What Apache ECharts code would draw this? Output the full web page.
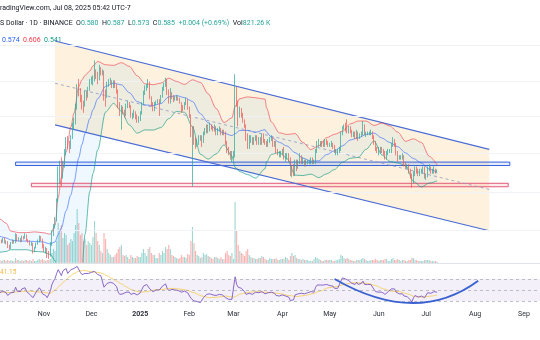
<!DOCTYPE html>
<html>
<head>
<meta charset="utf-8">
<script src="https://cdn.jsdelivr.net/npm/echarts@6/dist/echarts.min.js"></script>
<style>
html, body { margin: 0; padding: 0; background: #fff; }
#main { width: 540px; height: 340px; }
</style>
</head>
<body>
<div id="main"></div>
<script>
// daily candles, 2024-10-01 .. 2025-07-08 (one value per day)
var firstDay = [2024, 9, 1];

var opens = [
  0.365, 0.351, 0.340, 0.337, 0.352, 0.350, 0.357, 0.349, 0.349, 0.337, 0.335, 0.347, 0.352, 0.349, 0.368, 0.354, 0.358, 0.352, 0.362, 0.360, 0.367, 0.354, 0.352, 0.343, 0.346, 0.327, 0.335, 0.345, 0.351, 0.362, 0.355,
  0.337, 0.330, 0.330, 0.320, 0.318, 0.345, 0.373, 0.390, 0.410, 0.470, 0.570, 0.580, 0.560, 0.610, 0.660, 0.720, 0.700, 0.690, 0.740, 0.800, 0.820, 0.920, 1.050, 1.030, 0.980, 0.950, 0.930, 1.010, 0.990, 1.040,
  1.100, 1.110, 1.120, 1.180, 1.160, 1.130, 1.210, 1.170, 1.180, 1.000, 0.990, 1.080, 1.100, 1.100, 1.070, 1.090, 1.070, 1.030, 0.930, 0.880, 0.900, 0.890, 0.870, 0.920, 0.940, 0.920, 0.860, 0.860, 0.880, 0.850, 0.840,
  0.840, 0.880, 0.940, 1.020, 1.050, 1.060, 1.090, 0.980, 0.940, 0.910, 0.940, 0.950, 0.960, 0.950, 0.990, 1.050, 1.070, 1.110, 1.020, 0.960, 1.000, 0.990, 0.970, 0.980, 0.980, 0.970, 0.950, 0.920, 0.910, 0.940, 0.960,
  0.910, 0.860, 0.770, 0.780, 0.720, 0.700, 0.710, 0.730, 0.740, 0.720, 0.760, 0.770, 0.800, 0.780, 0.800, 0.790, 0.780, 0.800, 0.760, 0.780, 0.780, 0.760, 0.770, 0.760, 0.710, 0.680, 0.660, 0.640,
  0.650, 0.650, 1.040, 0.930, 0.880, 0.900, 0.870, 0.830, 0.800, 0.730, 0.700, 0.730, 0.730, 0.710, 0.730, 0.740, 0.710, 0.730, 0.710, 0.750, 0.720, 0.710, 0.700, 0.720, 0.730, 0.730, 0.700, 0.710, 0.670, 0.660, 0.660,
  0.660, 0.670, 0.640, 0.650, 0.650, 0.630, 0.570, 0.580, 0.570, 0.620, 0.600, 0.620, 0.640, 0.620, 0.620, 0.610, 0.620, 0.620, 0.620, 0.630, 0.620, 0.620, 0.670, 0.700, 0.710, 0.700, 0.710, 0.700, 0.720, 0.710,
  0.700, 0.700, 0.700, 0.690, 0.670, 0.670, 0.670, 0.680, 0.760, 0.790, 0.800, 0.790, 0.780, 0.780, 0.770, 0.750, 0.760, 0.740, 0.770, 0.740, 0.750, 0.760, 0.800, 0.760, 0.760, 0.760, 0.760, 0.760, 0.740, 0.710, 0.680,
  0.670, 0.670, 0.680, 0.670, 0.660, 0.640, 0.660, 0.670, 0.670, 0.700, 0.720, 0.700, 0.660, 0.640, 0.640, 0.640, 0.640, 0.610, 0.600, 0.600, 0.580, 0.560, 0.540, 0.570, 0.590, 0.580, 0.570, 0.580, 0.580, 0.590,
  0.560, 0.560, 0.590, 0.600, 0.580, 0.580, 0.590, 0.580
];
var closes = [
  0.351, 0.340, 0.337, 0.352, 0.350, 0.357, 0.349, 0.349, 0.337, 0.335, 0.347, 0.352, 0.349, 0.368, 0.354, 0.358, 0.352, 0.362, 0.360, 0.367, 0.354, 0.352, 0.343, 0.346, 0.327, 0.335, 0.345, 0.351, 0.362, 0.355, 0.337,
  0.330, 0.330, 0.320, 0.318, 0.345, 0.373, 0.390, 0.410, 0.470, 0.570, 0.580, 0.560, 0.610, 0.660, 0.720, 0.700, 0.690, 0.740, 0.800, 0.820, 0.920, 1.050, 1.030, 0.980, 0.950, 0.930, 1.010, 0.990, 1.040, 1.100,
  1.110, 1.120, 1.180, 1.160, 1.130, 1.210, 1.170, 1.180, 1.000, 0.990, 1.080, 1.100, 1.100, 1.070, 1.090, 1.070, 1.030, 0.930, 0.880, 0.900, 0.890, 0.870, 0.920, 0.940, 0.920, 0.860, 0.860, 0.880, 0.850, 0.840, 0.840,
  0.880, 0.940, 1.020, 1.050, 1.060, 1.090, 0.980, 0.940, 0.910, 0.940, 0.950, 0.960, 0.950, 0.990, 1.050, 1.070, 1.110, 1.020, 0.960, 1.000, 0.990, 0.970, 0.980, 0.980, 0.970, 0.950, 0.920, 0.910, 0.940, 0.960, 0.910,
  0.860, 0.770, 0.780, 0.720, 0.700, 0.710, 0.730, 0.740, 0.720, 0.760, 0.770, 0.800, 0.780, 0.800, 0.790, 0.780, 0.800, 0.760, 0.780, 0.780, 0.760, 0.770, 0.760, 0.710, 0.680, 0.660, 0.640, 0.650,
  0.650, 1.040, 0.930, 0.880, 0.900, 0.870, 0.830, 0.800, 0.730, 0.700, 0.730, 0.730, 0.710, 0.730, 0.740, 0.710, 0.730, 0.710, 0.750, 0.720, 0.710, 0.700, 0.720, 0.730, 0.730, 0.700, 0.710, 0.670, 0.660, 0.660, 0.660,
  0.670, 0.640, 0.650, 0.650, 0.630, 0.570, 0.580, 0.570, 0.620, 0.600, 0.620, 0.640, 0.620, 0.620, 0.610, 0.620, 0.620, 0.620, 0.630, 0.620, 0.620, 0.670, 0.700, 0.710, 0.700, 0.710, 0.700, 0.720, 0.710, 0.700,
  0.700, 0.700, 0.690, 0.670, 0.670, 0.670, 0.680, 0.760, 0.790, 0.800, 0.790, 0.780, 0.780, 0.770, 0.750, 0.760, 0.740, 0.770, 0.740, 0.750, 0.760, 0.800, 0.760, 0.760, 0.760, 0.760, 0.760, 0.740, 0.710, 0.680, 0.670,
  0.670, 0.680, 0.670, 0.660, 0.640, 0.660, 0.670, 0.670, 0.700, 0.720, 0.700, 0.660, 0.640, 0.640, 0.640, 0.640, 0.610, 0.600, 0.600, 0.580, 0.560, 0.540, 0.570, 0.590, 0.580, 0.570, 0.580, 0.580, 0.590, 0.560,
  0.560, 0.590, 0.600, 0.580, 0.580, 0.590, 0.580, 0.585
];
var highs = [
  0.368, 0.355, 0.345, 0.356, 0.356, 0.360, 0.362, 0.354, 0.352, 0.343, 0.350, 0.356, 0.354, 0.372, 0.370, 0.362, 0.360, 0.366, 0.365, 0.372, 0.369, 0.357, 0.354, 0.350, 0.348, 0.338, 0.348, 0.356, 0.366, 0.365, 0.358,
  0.345, 0.338, 0.335, 0.328, 0.350, 0.380, 0.398, 0.418, 0.478, 0.600, 0.625, 0.640, 0.625, 0.680, 0.740, 0.745, 0.720, 0.750, 0.820, 0.850, 0.940, 1.080, 1.120, 1.050, 1.000, 0.960, 1.030, 1.030, 1.060, 1.120,
  1.140, 1.150, 1.280, 1.200, 1.180, 1.240, 1.220, 1.200, 1.190, 1.040, 1.100, 1.120, 1.130, 1.110, 1.110, 1.110, 1.080, 1.040, 0.950, 0.930, 0.920, 0.900, 0.940, 0.960, 0.950, 0.930, 0.880, 0.900, 0.890, 0.870, 0.860,
  0.890, 0.950, 1.030, 1.070, 1.080, 1.120, 1.100, 0.990, 0.950, 0.950, 0.960, 0.970, 0.970, 1.000, 1.060, 1.090, 1.130, 1.120, 1.040, 1.050, 1.020, 1.000, 0.990, 1.000, 0.990, 0.980, 0.950, 0.930, 0.950, 0.980, 0.970,
  0.920, 0.870, 0.800, 0.800, 0.740, 0.730, 0.750, 0.750, 0.750, 0.770, 0.790, 0.810, 0.810, 0.820, 0.810, 0.800, 0.810, 0.800, 0.790, 0.800, 0.790, 0.780, 0.780, 0.770, 0.720, 0.690, 0.670, 0.670,
  0.670, 1.160, 1.060, 0.960, 0.920, 0.910, 0.880, 0.840, 0.810, 0.760, 0.750, 0.750, 0.740, 0.740, 0.750, 0.750, 0.740, 0.740, 0.760, 0.760, 0.730, 0.720, 0.730, 0.740, 0.750, 0.740, 0.720, 0.720, 0.680, 0.670, 0.670,
  0.680, 0.690, 0.660, 0.660, 0.660, 0.640, 0.600, 0.610, 0.630, 0.630, 0.630, 0.660, 0.650, 0.640, 0.630, 0.630, 0.630, 0.630, 0.640, 0.640, 0.630, 0.680, 0.720, 0.730, 0.720, 0.720, 0.720, 0.730, 0.730, 0.720,
  0.710, 0.720, 0.710, 0.700, 0.680, 0.680, 0.690, 0.770, 0.800, 0.810, 0.820, 0.840, 0.800, 0.800, 0.780, 0.770, 0.770, 0.780, 0.770, 0.760, 0.770, 0.830, 0.810, 0.770, 0.770, 0.770, 0.780, 0.770, 0.750, 0.720, 0.690,
  0.690, 0.690, 0.690, 0.680, 0.670, 0.670, 0.680, 0.680, 0.710, 0.740, 0.730, 0.710, 0.670, 0.650, 0.650, 0.660, 0.650, 0.620, 0.610, 0.610, 0.590, 0.570, 0.580, 0.600, 0.600, 0.590, 0.590, 0.590, 0.600, 0.600,
  0.570, 0.600, 0.610, 0.600, 0.590, 0.600, 0.590, 0.587
];
var lows = [
  0.347, 0.335, 0.331, 0.334, 0.346, 0.348, 0.346, 0.344, 0.335, 0.331, 0.333, 0.345, 0.346, 0.347, 0.351, 0.352, 0.349, 0.350, 0.356, 0.358, 0.352, 0.348, 0.341, 0.340, 0.322, 0.325, 0.334, 0.343, 0.349, 0.352, 0.334,
  0.325, 0.322, 0.312, 0.310, 0.315, 0.340, 0.365, 0.385, 0.405, 0.465, 0.530, 0.520, 0.550, 0.595, 0.650, 0.680, 0.660, 0.680, 0.730, 0.780, 0.810, 0.900, 0.990, 0.950, 0.900, 0.880, 0.920, 0.960, 0.980, 1.030,
  1.080, 1.070, 1.100, 1.120, 1.080, 1.110, 1.150, 1.150, 0.960, 0.920, 0.980, 1.060, 1.080, 1.050, 1.050, 1.050, 1.010, 0.910, 0.860, 0.780, 0.870, 0.850, 0.860, 0.910, 0.910, 0.850, 0.840, 0.850, 0.840, 0.820, 0.820,
  0.830, 0.870, 0.930, 1.000, 1.030, 1.050, 0.970, 0.920, 0.890, 0.890, 0.930, 0.940, 0.860, 0.940, 0.980, 1.030, 1.060, 1.000, 0.940, 0.940, 0.970, 0.950, 0.960, 0.960, 0.960, 0.940, 0.880, 0.890, 0.900, 0.930, 0.900,
  0.850, 0.740, 0.520, 0.700, 0.680, 0.690, 0.700, 0.720, 0.690, 0.710, 0.750, 0.760, 0.760, 0.770, 0.780, 0.770, 0.770, 0.750, 0.750, 0.770, 0.750, 0.750, 0.750, 0.700, 0.660, 0.650, 0.630, 0.620,
  0.630, 0.640, 0.920, 0.800, 0.850, 0.850, 0.820, 0.790, 0.720, 0.680, 0.680, 0.710, 0.700, 0.700, 0.720, 0.700, 0.700, 0.700, 0.700, 0.710, 0.700, 0.690, 0.690, 0.710, 0.720, 0.690, 0.690, 0.660, 0.650, 0.640, 0.640,
  0.650, 0.630, 0.620, 0.630, 0.620, 0.560, 0.555, 0.560, 0.560, 0.580, 0.590, 0.610, 0.610, 0.610, 0.600, 0.600, 0.610, 0.610, 0.610, 0.610, 0.610, 0.610, 0.660, 0.690, 0.690, 0.690, 0.690, 0.690, 0.700, 0.690,
  0.690, 0.690, 0.680, 0.660, 0.650, 0.650, 0.660, 0.670, 0.750, 0.780, 0.770, 0.760, 0.760, 0.760, 0.740, 0.740, 0.730, 0.730, 0.720, 0.730, 0.740, 0.750, 0.750, 0.740, 0.750, 0.750, 0.750, 0.730, 0.700, 0.670, 0.660,
  0.650, 0.660, 0.660, 0.650, 0.630, 0.630, 0.650, 0.660, 0.660, 0.690, 0.690, 0.650, 0.620, 0.630, 0.630, 0.630, 0.600, 0.590, 0.590, 0.570, 0.550, 0.515, 0.530, 0.560, 0.570, 0.560, 0.560, 0.570, 0.570, 0.550,
  0.545, 0.555, 0.580, 0.570, 0.570, 0.570, 0.570, 0.573
];
// volume, millions
var volumes = [
  5, 4, 3, 3, 2, 3, 3, 2, 3, 2, 3, 2, 2, 5, 3, 3, 2, 3, 2, 3, 3, 2, 3, 2, 4, 2, 2, 3, 4, 3, 4,
  3, 2, 3, 3, 4, 10, 14, 12, 22, 40, 30, 38, 25, 30, 28, 18, 20, 24, 22, 30, 38, 54, 40, 28, 30, 22, 24, 18, 22, 20,
  18, 26, 42, 30, 22, 18, 12, 10, 30, 24, 14, 10, 8, 6, 6, 8, 10, 14, 16, 18, 8, 7, 8, 6, 4, 8, 6, 5, 5, 7, 6,
  6, 10, 14, 10, 7, 14, 16, 10, 8, 8, 5, 5, 10, 8, 12, 10, 16, 14, 18, 14, 8, 7, 6, 5, 4, 5, 8, 6, 6, 5, 9,
  8, 22, 36, 20, 12, 8, 7, 5, 6, 10, 8, 9, 7, 6, 5, 4, 6, 6, 5, 4, 6, 4, 4, 10, 12, 8, 7, 10,
  4, 61, 32, 18, 12, 10, 9, 7, 12, 14, 8, 6, 5, 5, 4, 4, 5, 5, 7, 6, 4, 3, 3, 5, 4, 4, 4, 5, 3, 3, 4,
  4, 4, 6, 5, 3, 7, 10, 7, 8, 5, 4, 4, 3, 4, 3, 3, 3, 2, 2, 2, 4, 6, 5, 4, 3, 2, 2, 3, 3, 3,
  3, 3, 2, 2, 3, 3, 4, 8, 7, 5, 4, 5, 4, 3, 3, 2, 2, 3, 3, 3, 4, 5, 4, 3, 2, 2, 3, 3, 3, 4, 3,
  2, 3, 3, 3, 4, 4, 2, 2, 4, 5, 3, 3, 4, 3, 2, 3, 3, 2, 2, 3, 3, 5, 5, 3, 3, 2, 2, 2, 2, 3,
  3, 3, 3, 2, 2, 2, 2, 1
];
// RSI 14, one value per day
var rsi = [
  42, 38, 37, 45, 44, 48, 45, 45, 40, 39, 45, 48, 46, 55, 48, 50, 47, 52, 51, 54, 47, 46, 42, 44, 36, 41, 46, 49, 54, 50, 43,
  40, 40, 36, 35, 48, 60, 66, 71, 80, 87, 87, 76, 85, 87, 89, 80, 78, 87, 88, 89, 91, 93, 91, 82, 78, 76, 80, 78, 80, 82,
  82, 82, 84, 81, 78, 81, 76, 77, 55, 55, 62, 64, 64, 61, 62, 60, 56, 46, 42, 44, 43, 42, 46, 48, 46, 42, 42, 44, 42, 41, 41,
  45, 51, 57, 59, 60, 62, 52, 49, 47, 49, 50, 51, 50, 53, 57, 58, 61, 53, 49, 52, 51, 50, 50, 50, 49, 48, 46, 45, 48, 49, 45,
  42, 35, 36, 30, 28, 29, 31, 27, 28, 36, 38, 42, 41, 43, 42, 41, 43, 40, 42, 42, 40, 41, 40, 36, 34, 33, 31, 33,
  33, 74, 60, 55, 57, 53, 50, 47, 42, 40, 44, 44, 42, 45, 46, 43, 45, 43, 47, 44, 43, 43, 45, 46, 46, 43, 44, 40, 39, 39, 39,
  41, 38, 39, 39, 37, 31, 33, 32, 41, 39, 43, 46, 44, 44, 43, 45, 45, 45, 47, 46, 46, 55, 59, 61, 59, 60, 59, 61, 60, 58,
  58, 58, 57, 53, 53, 53, 55, 66, 72, 74, 70, 67, 67, 65, 62, 63, 60, 64, 60, 61, 62, 66, 60, 60, 60, 60, 60, 57, 51, 47, 46,
  46, 47, 46, 45, 42, 45, 47, 47, 52, 55, 52, 46, 43, 43, 43, 43, 39, 38, 38, 35, 32, 28, 36, 40, 38, 37, 39, 39, 41, 36,
  36, 45, 47, 44, 45, 47, 45, 46
];

// RSI-based MA, read every few days
var rsiMaDates = ['2024-10-01', '2024-10-06', '2024-10-11', '2024-10-16', '2024-10-21', '2024-10-26', '2024-10-31', '2024-11-05', '2024-11-08', '2024-11-11', '2024-11-14', '2024-11-17', '2024-11-20', '2024-11-23', '2024-11-26', '2024-11-29', '2024-12-02', '2024-12-05', '2024-12-08', '2024-12-11', '2024-12-14', '2024-12-17', '2024-12-20', '2024-12-23', '2024-12-26', '2024-12-29', '2025-01-01', '2025-01-05', '2025-01-10', '2025-01-15', '2025-01-20', '2025-01-25', '2025-01-30', '2025-02-04', '2025-02-09', '2025-02-14', '2025-02-19', '2025-02-24', '2025-03-01', '2025-03-06', '2025-03-11', '2025-03-16', '2025-03-21', '2025-03-26', '2025-03-31', '2025-04-05', '2025-04-10', '2025-04-15', '2025-04-20', '2025-04-25', '2025-04-30', '2025-05-05', '2025-05-10', '2025-05-15', '2025-05-20', '2025-05-25', '2025-05-30', '2025-06-04', '2025-06-09', '2025-06-14', '2025-06-19', '2025-06-24', '2025-06-29', '2025-07-04', '2025-07-08'];
var rsiMa = [47, 46, 45, 47, 48, 47, 46, 44, 50, 58, 66, 74, 80, 84, 86, 84, 83, 82, 80, 76, 71, 66, 61, 56, 51, 48, 46, 47, 50, 51, 53, 52, 50, 45, 39, 36, 37, 39, 37, 43, 46, 47, 46, 45, 43, 40, 38, 40, 43, 48, 54, 56, 60, 63, 63, 62, 58, 52, 48, 47, 43, 38, 37, 39, 41];

// Bollinger bands (20, 2), read every few days
var bbDates = ['2024-10-01', '2024-10-04', '2024-10-08', '2024-10-11', '2024-10-16', '2024-10-21', '2024-10-26', '2024-10-31', '2024-11-05', '2024-11-08', '2024-11-10', '2024-11-12', '2024-11-15', '2024-11-18', '2024-11-20', '2024-11-23', '2024-11-25', '2024-11-27', '2024-11-30', '2024-12-02', '2024-12-05', '2024-12-10', '2024-12-15', '2024-12-20', '2024-12-25', '2024-12-30', '2025-01-04', '2025-01-09', '2025-01-14', '2025-01-19', '2025-01-24', '2025-01-29', '2025-02-03', '2025-02-08', '2025-02-13', '2025-02-18', '2025-02-23', '2025-02-28', '2025-03-02', '2025-03-05', '2025-03-10', '2025-03-15', '2025-03-21', '2025-03-22', '2025-03-25', '2025-03-30', '2025-04-04', '2025-04-09', '2025-04-14', '2025-04-19', '2025-04-24', '2025-04-29', '2025-05-04', '2025-05-09', '2025-05-14', '2025-05-19', '2025-05-24', '2025-05-29', '2025-06-03', '2025-06-08', '2025-06-13', '2025-06-18', '2025-06-23', '2025-06-28', '2025-07-03', '2025-07-08'];
var bbUpper = [0.415, 0.412, 0.400, 0.378, 0.374, 0.374, 0.376, 0.374, 0.370, 0.394, 0.480, 0.555, 0.665, 0.795, 0.879, 1.062, 1.113, 1.150, 1.186, 1.230, 1.270, 1.241, 1.235, 1.259, 1.227, 1.147, 1.083, 1.076, 1.088, 1.127, 1.101, 1.078, 1.114, 1.094, 1.008, 0.908, 0.821, 0.849, 0.920, 0.974, 0.986, 0.980, 0.970, 0.910, 0.824, 0.763, 0.754, 0.759, 0.712, 0.677, 0.696, 0.737, 0.755, 0.771, 0.813, 0.830, 0.830, 0.804, 0.818, 0.801, 0.767, 0.718, 0.731, 0.712, 0.645, 0.606];
var bbBasis = [0.366, 0.364, 0.360, 0.355, 0.352, 0.352, 0.351, 0.350, 0.345, 0.350, 0.369, 0.387, 0.437, 0.490, 0.537, 0.638, 0.701, 0.760, 0.844, 0.900, 0.973, 1.063, 1.088, 1.075, 1.017, 0.954, 0.931, 0.927, 0.940, 0.986, 0.995, 0.981, 0.955, 0.875, 0.820, 0.782, 0.761, 0.748, 0.758, 0.776, 0.776, 0.766, 0.780, 0.766, 0.739, 0.713, 0.694, 0.662, 0.637, 0.623, 0.625, 0.653, 0.671, 0.695, 0.725, 0.736, 0.754, 0.762, 0.735, 0.712, 0.691, 0.661, 0.635, 0.615, 0.589, 0.574];
var bbLower = [0.326, 0.325, 0.327, 0.331, 0.331, 0.331, 0.327, 0.326, 0.320, 0.306, 0.258, 0.219, 0.209, 0.185, 0.195, 0.214, 0.289, 0.370, 0.502, 0.570, 0.676, 0.885, 0.941, 0.891, 0.807, 0.761, 0.779, 0.778, 0.792, 0.844, 0.889, 0.883, 0.796, 0.655, 0.632, 0.656, 0.700, 0.646, 0.596, 0.578, 0.566, 0.552, 0.590, 0.620, 0.654, 0.663, 0.634, 0.564, 0.562, 0.568, 0.554, 0.569, 0.587, 0.618, 0.636, 0.640, 0.678, 0.720, 0.651, 0.622, 0.615, 0.604, 0.539, 0.518, 0.533, 0.541];

// drawings: descending channel, two horizontal zones, arc on the RSI
var chanDates = ['2024-11-08', '2025-08-10'];
var chanUpper = [1.470, 0.678];
var chanMid = [1.087, 0.509];
var chanLower = [0.807, 0.379];
var zoneFrom = ['2024-10-14', '2024-10-24'];
var zoneTo = ['2025-08-23', '2025-08-22'];
var zoneLow = [0.604, 0.519];
var zoneHigh = [0.619, 0.532];
var arcDates = ['2025-05-04', '2025-06-25', '2025-08-03'];
var arcValues = [70, -15.8, 66.9];

var gridPrices = [1.43, 1.10, 0.857, 0.656, 0.50, 0.384];
var rsiLevels = [70, 50, 30];
var monthTicks = ['2024-11-01', '2024-12-01', '2025-01-01', '2025-02-01', '2025-03-01', '2025-04-01', '2025-05-01', '2025-06-01', '2025-07-01', '2025-08-01', '2025-09-01'];
var monthLabels = ['Nov', 'Dec', '2025', 'Feb', 'Mar', 'Apr', 'May', 'Jun', 'Jul', 'Aug', 'Sep'];

var UP = '#26a69a', DOWN = '#ef5350';
var FONT = 'Roboto, "Noto Sans", sans-serif';

function t(s) {
  var p = s.split('-');
  return new Date(+p[0], +p[1] - 1, +p[2]).getTime();
}
function pairs(ds, vs) {
  return ds.map(function (d, i) { return [t(d), vs[i]]; });
}

var days = closes.map(function (c, i) {
  return new Date(firstDay[0], firstDay[1], firstDay[2] + i).getTime();
});
var candleData = days.map(function (d, i) {
  return [d, opens[i], closes[i], lows[i], highs[i]];
});
var volData = days.map(function (d, i) {
  return {
    value: [d, volumes[i]],
    itemStyle: { color: closes[i] >= opens[i] ? 'rgba(38,166,154,0.45)' : 'rgba(239,83,80,0.45)' }
  };
});
var rsiData = days.map(function (d, i) { return [d, rsi[i]]; });

var tickLabel = {};
monthTicks.forEach(function (d, i) { tickLabel[t(d)] = monthLabels[i]; });

var xMin = new Date(2024, 9, 4, 3).getTime();
var xMax = new Date(2025, 8, 11, 3).getTime();

// x axes are plain value axes in epoch ms (labels placed on month starts)
function hiddenX(grid) {
  return { type: 'value', gridIndex: grid, min: xMin, max: xMax, show: false };
}

var myChart = echarts.init(document.getElementById('main'));

var option = {
  animation: false,
  backgroundColor: '#fff',
  grid: [
    { left: 0, right: 0, top: 30, height: 232 },
    { left: 0, right: 0, top: 195, height: 68 },
    { left: 0, right: 0, top: 266, height: 44 }
  ],
  xAxis: [
    hiddenX(0),
    hiddenX(1),
    {
      type: 'value', gridIndex: 2, min: xMin, max: xMax,
      axisLine: { show: false }, axisTick: { show: false }, splitLine: { show: false },
      axisLabel: {
        customValues: monthTicks.map(t),
        showMinLabel: true, showMaxLabel: true, hideOverlap: false,
        margin: 1,
        fontSize: 7,
        fontFamily: FONT,
        color: '#2a2e39',
        formatter: function (v) {
          var s = tickLabel[v] || '';
          return /^\d{4}$/.test(s) ? '{y|' + s + '}' : s;
        },
        rich: { y: { fontSize: 7, fontWeight: 'bold', fontFamily: FONT, color: '#2a2e39' } }
      }
    }
  ],
  yAxis: [
    { type: 'log', gridIndex: 0, min: 0.3032, max: 1.5902, show: false },
    { type: 'value', gridIndex: 1, min: 0, max: 68, show: false },
    { type: 'value', gridIndex: 2, min: 13.6, max: 93.6, show: false }
  ],
  graphic: [
    { type: 'text', x: 0, y: 8, style: { text: 'radingView.com, Jul 08, 2025 05:42 UTC-7', fill: '#131722', font: '7px ' + FONT, verticalAlign: 'middle' } },
    {
      type: 'text', x: 0, y: 23,
      style: {
        text: 'S Dollar · 1D · BINANCE  {d|O}{g|0.580}  {d|H}{g|0.587}  {d|L}{g|0.573}  {d|C}{g|0.585}  {g|+0.004 (+0.69%)}  {d|Vol}{g|821.26 K}',
        fill: '#131722', font: '7px ' + FONT, verticalAlign: 'middle',
        rich: { d: { fill: '#131722', fontSize: 7, fontFamily: FONT }, g: { fill: '#26a69a', fontSize: 7, fontFamily: FONT } }
      }
    },
    {
      type: 'text', x: 2, y: 40,
      style: {
        text: '{b|0.574}  {r|0.606}  {g|0.541}',
        font: '7px ' + FONT, verticalAlign: 'middle',
        rich: { b: { fill: '#2962ff', fontSize: 7, fontFamily: FONT }, r: { fill: '#f23645', fontSize: 7, fontFamily: FONT }, g: { fill: '#089981', fontSize: 7, fontFamily: FONT } }
      }
    },
    { type: 'text', x: 0, y: 272, style: { text: '41.15', fill: '#f2b63c', font: '6.5px ' + FONT, verticalAlign: 'middle' } },
    { type: 'line', shape: { x1: 0, y1: 263.5, x2: 540, y2: 263.5 }, style: { stroke: '#e0e3eb', lineWidth: 1 } }
  ],
  series: [
    {
      // channel background
      type: 'custom', xAxisIndex: 0, yAxisIndex: 0, z: 1, silent: true,
      data: [[t(chanDates[0]), chanUpper[0]]],
      renderItem: function (params, api) {
        var pts = [
          api.coord([t(chanDates[0]), chanUpper[0]]),
          api.coord([t(chanDates[1]), chanUpper[1]]),
          api.coord([t(chanDates[1]), chanLower[1]]),
          api.coord([t(chanDates[0]), chanLower[0]])
        ];
        return { type: 'polygon', shape: { points: pts }, style: { fill: 'rgba(250,190,90,0.2)' } };
      },
      markLine: {
        silent: true, symbol: 'none', label: { show: false },
        lineStyle: { color: '#f0f2f6', width: 1, type: 'solid' },
        data: gridPrices.map(function (p) { return { yAxis: p }; })
      }
    },
    {
      // band background
      type: 'custom', xAxisIndex: 0, yAxisIndex: 0, z: 2, silent: true,
      data: [[t(bbDates[0]), bbBasis[0]]],
      renderItem: function (params, api) {
        var cs = params.coordSys;
        var clampY = function (p) { return [p[0], Math.max(cs.y, Math.min(cs.y + cs.height, p[1]))]; };
        var pts = [];
        bbDates.forEach(function (d, i) { pts.push(clampY(api.coord([t(d), bbUpper[i]]))); });
        for (var i = bbDates.length - 1; i >= 0; i--) pts.push(clampY(api.coord([t(bbDates[i]), bbLower[i]])));
        return { type: 'polygon', shape: { points: pts }, style: { fill: 'rgba(33,150,243,0.07)' } };
      }
    },
    {
      // horizontal zones
      type: 'custom', xAxisIndex: 0, yAxisIndex: 0, z: 3, silent: true,
      encode: { x: [0, 1], y: [2, 3] },
      data: zoneFrom.map(function (d, i) { return [t(d), t(zoneTo[i]), zoneLow[i], zoneHigh[i]]; }),
      renderItem: function (params, api) {
        var a = api.coord([api.value(0), api.value(3)]);
        var b = api.coord([api.value(1), api.value(2)]);
        var blue = params.dataIndex === 0;
        return {
          type: 'rect',
          shape: { x: a[0], y: a[1], width: b[0] - a[0], height: b[1] - a[1] },
          style: {
            fill: blue ? 'rgba(41,98,255,0.12)' : 'rgba(242,54,69,0.10)',
            stroke: blue ? '#3563d8' : '#e2587a',
            lineWidth: 1
          }
        };
      }
    },
    {
      type: 'line', xAxisIndex: 0, yAxisIndex: 0, z: 4, silent: true, symbol: 'none',
      data: pairs(chanDates, chanUpper), lineStyle: { color: '#4a6cd4', width: 1.2 }
    },
    {
      type: 'line', xAxisIndex: 0, yAxisIndex: 0, z: 4, silent: true, symbol: 'none',
      data: pairs(chanDates, chanLower), lineStyle: { color: '#4a6cd4', width: 1.2 }
    },
    {
      type: 'line', xAxisIndex: 0, yAxisIndex: 0, z: 4, silent: true, symbol: 'none',
      data: pairs(chanDates, chanMid), lineStyle: { color: '#8e98c4', width: 0.8, type: [3, 3] }
    },
    {
      type: 'line', xAxisIndex: 0, yAxisIndex: 0, z: 5, silent: true, symbol: 'none',
      smooth: 0.3, smoothMonotone: 'x',
      data: pairs(bbDates, bbUpper), lineStyle: { color: 'rgba(242,54,69,0.75)', width: 0.8 }
    },
    {
      type: 'line', xAxisIndex: 0, yAxisIndex: 0, z: 5, silent: true, symbol: 'none',
      smooth: 0.3, smoothMonotone: 'x',
      data: pairs(bbDates, bbBasis), lineStyle: { color: 'rgba(41,98,255,0.75)', width: 0.8 }
    },
    {
      type: 'line', xAxisIndex: 0, yAxisIndex: 0, z: 5, silent: true, symbol: 'none',
      smooth: 0.3, smoothMonotone: 'x',
      data: pairs(bbDates, bbLower), lineStyle: { color: 'rgba(8,153,129,0.8)', width: 0.8 }
    },
    {
      type: 'bar', xAxisIndex: 1, yAxisIndex: 1, z: 1, silent: true,
      barWidth: 1.1, data: volData
    },
    {
      type: 'candlestick', xAxisIndex: 0, yAxisIndex: 0, z: 6, silent: true,
      barWidth: 1.2,
      encode: { x: 0, y: [1, 2, 3, 4] },
      data: candleData,
      itemStyle: { color: UP, color0: DOWN, borderColor: UP, borderColor0: DOWN, borderWidth: 0.7 }
    },
    {
      type: 'line', xAxisIndex: 2, yAxisIndex: 2, z: 4, silent: true, symbol: 'none',
      data: rsiData, lineStyle: { color: '#7e57c2', width: 0.9 },
      markArea: {
        silent: true,
        itemStyle: { color: 'rgba(126,87,194,0.09)' },
        data: [[{ yAxis: rsiLevels[2] }, { yAxis: rsiLevels[0] }]]
      },
      markLine: {
        silent: true, symbol: 'none', label: { show: false },
        lineStyle: { color: '#a3a6af', width: 0.7, type: [3, 3] },
        data: rsiLevels.map(function (v) { return { yAxis: v }; })
      }
    },
    {
      type: 'line', xAxisIndex: 2, yAxisIndex: 2, z: 3, silent: true, symbol: 'none',
      smooth: 0.3, smoothMonotone: 'x',
      data: pairs(rsiMaDates, rsiMa), lineStyle: { color: '#f5cf63', width: 0.9 }
    },
    {
      type: 'custom', xAxisIndex: 2, yAxisIndex: 2, z: 6, silent: true,
      encode: { x: [0, 2, 4], y: [1, 3, 5] },
      data: [[t(arcDates[0]), arcValues[0], t(arcDates[1]), arcValues[1], t(arcDates[2]), arcValues[2]]],
      renderItem: function (params, api) {
        var a = api.coord([api.value(0), api.value(1)]);
        var c = api.coord([api.value(2), api.value(3)]);
        var b = api.coord([api.value(4), api.value(5)]);
        return {
          type: 'bezierCurve',
          shape: { x1: a[0], y1: a[1], x2: b[0], y2: b[1], cpx1: c[0], cpy1: c[1] },
          style: { stroke: '#3a61d1', lineWidth: 1.8, fill: null }
        };
      }
    }
  ]
};

myChart.setOption(option);
window.addEventListener('resize', function () {
  myChart.resize();
});
</script>
</body>
</html>
